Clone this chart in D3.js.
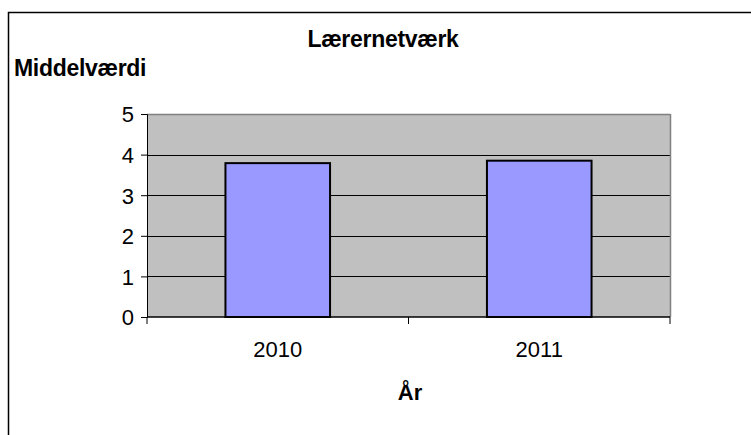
<!DOCTYPE html>
<html>
<head>
<meta charset="utf-8">
<script src="https://cdn.jsdelivr.net/npm/d3@7"></script>
<style>
  body { margin: 0; background: #fff; }
  text { font-family: Arial, "Liberation Sans", sans-serif; fill: #000; }
</style>
</head>
<body>
<div id="chart"></div>
<script>
// data
const years = ['2010', '2011'];
const means = [3.79, 3.85];
const yTicks = [0, 1, 2, 3, 4, 5];

const width = 751;
const height = 435;
const plot = {left: 147, right: 670, top: 114, bottom: 317};

const svg = d3.select('#chart').append('svg')
    .attr('width', width)
    .attr('height', height);

// outer frame (runs off the right/bottom edge like the original)
svg.append('rect')
    .attr('x', 8.5).attr('y', 12.5)
    .attr('width', 800).attr('height', 500)
    .attr('fill', '#fff')
    .attr('stroke', '#000')
    .attr('stroke-width', 1.5);

const x = d3.scaleBand().domain(years).range([plot.left, plot.right]);
const y = d3.scaleLinear().domain([0, 5]).range([plot.bottom, plot.top]);

// plot area
svg.append('rect')
    .attr('x', plot.left).attr('y', plot.top)
    .attr('width', plot.right - plot.left)
    .attr('height', plot.bottom - plot.top)
    .attr('fill', '#c0c0c0');

// gridlines
svg.append('g').selectAll('line')
    .data(yTicks.filter(d => d > 0))
    .enter().append('line')
    .attr('x1', plot.left).attr('x2', plot.right)
    .attr('y1', d => Math.round(y(d)) + 0.5)
    .attr('y2', d => Math.round(y(d)) + 0.5)
    .attr('stroke', d => d == 5 ? '#808080' : '#000')
    .attr('stroke-width', d => d == 5 ? 1.5 : 1);

// right border
svg.append('line')
    .attr('x1', plot.right + 0.5).attr('x2', plot.right + 0.5)
    .attr('y1', plot.top).attr('y2', plot.bottom)
    .attr('stroke', '#808080').attr('stroke-width', 1.5);

// bars
const barW = x.bandwidth() * 0.4;
svg.append('g').selectAll('rect')
    .data(years)
    .enter().append('rect')
    .attr('x', d => x(d) + (x.bandwidth() - barW) / 2)
    .attr('y', (d, i) => y(means[i]))
    .attr('width', barW)
    .attr('height', (d, i) => y(0) - y(means[i]))
    .attr('fill', '#9999ff')
    .attr('stroke', '#000')
    .attr('stroke-width', 2);

// y axis
const yAxis = svg.append('g')
    .attr('transform', `translate(${plot.left},0)`)
    .call(d3.axisLeft(y).tickValues(yTicks).tickFormat(d3.format('d')).tickSize(6).tickPadding(7));
yAxis.select('.domain').attr('stroke', '#000');
yAxis.selectAll('text')
    .style('font-size', '22px')
    .attr('dy', '0.36em');

// x axis, ticks sit between categories
const xAxis = svg.append('g')
    .attr('transform', `translate(0,${plot.bottom})`);
xAxis.append('line')
    .attr('x1', plot.left).attr('x2', plot.right)
    .attr('stroke', '#000').attr('stroke-width', 1.5);
const edges = [plot.left].concat(years.map(d => x(d) + x.bandwidth()));
xAxis.selectAll('.tk')
    .data(edges)
    .enter().append('line')
    .attr('class', 'tk')
    .attr('x1', d => d).attr('x2', d => d)
    .attr('y1', 0).attr('y2', 7)
    .attr('stroke', '#000');
xAxis.selectAll('.lbl')
    .data(years)
    .enter().append('text')
    .attr('class', 'lbl')
    .attr('x', d => x(d) + x.bandwidth() / 2)
    .attr('y', 40)
    .attr('text-anchor', 'middle')
    .style('font-size', '22px')
    .text(d => d);

// titles
svg.append('text')
    .attr('x', 383).attr('y', 47)
    .attr('text-anchor', 'middle')
    .style('font-size', '23px').style('font-weight', 'bold')
    .style('letter-spacing', '-0.3px')
    .text('Lærernetværk');
svg.append('text')
    .attr('x', 14).attr('y', 76)
    .style('font-size', '23px').style('font-weight', 'bold')
    .style('letter-spacing', '-0.3px')
    .text('Middelværdi');
svg.append('text')
    .attr('x', 410).attr('y', 400)
    .attr('text-anchor', 'middle')
    .style('font-size', '22px').style('font-weight', 'bold')
    .text('År');
</script>
</body>
</html>
